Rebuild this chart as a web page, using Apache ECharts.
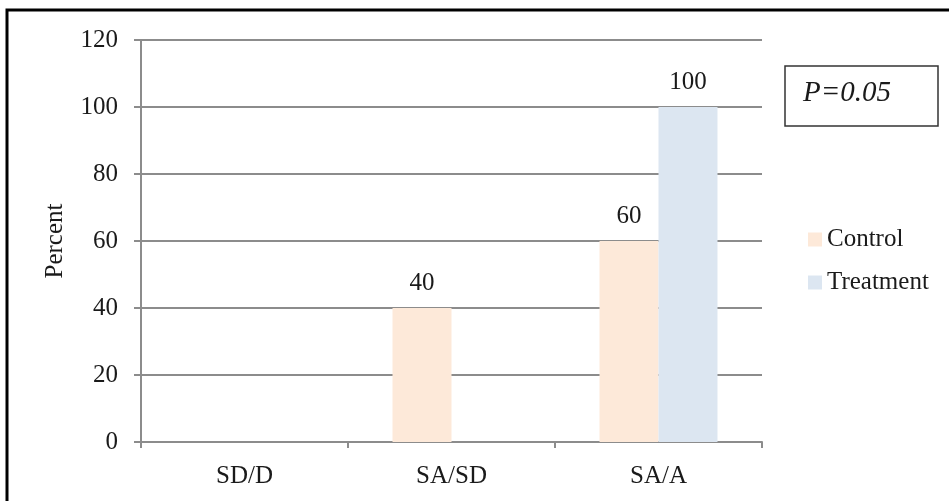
<!DOCTYPE html>
<html>
<head>
<meta charset="utf-8">
<script src="https://cdn.jsdelivr.net/npm/echarts@6/dist/echarts.min.js"></script>
<style>
  html, body { margin: 0; padding: 0; background: #fff; }
  #chart { width: 949px; height: 501px; }
</style>
</head>
<body>
<div id="chart"></div>
<script>
// Response categories and percentages per group
const categories = ['SD/D', 'SA/SD', 'SA/A'];
const controlValues = [0, 40, 60];
const treatmentValues = [0, 0, 100];
const seriesNames = ['Control', 'Treatment'];
const pValueText = 'P=0.05';

const FONT = '"Liberation Serif", "Times New Roman", serif';
const AXIS_GRAY = '#8c8c8c';

const chart = echarts.init(document.getElementById('chart'));

const labelOpt = {
  show: true,
  position: 'top',
  distance: 12,
  fontFamily: FONT,
  fontSize: 25,
  color: '#1a1a1a',
  formatter: p => (p.value ? String(p.value) : '')
};

chart.setOption({
  animation: false,
  backgroundColor: '#fff',
  grid: { left: 141, top: 40, right: 187, bottom: 59 },
  legend: {
    orient: 'vertical',
    left: 803,
    top: 222,
    itemWidth: 14,
    itemHeight: 14,
    itemGap: 18,
    icon: 'rect',
    textStyle: { fontFamily: FONT, fontSize: 25, color: '#1a1a1a' },
    data: seriesNames
  },
  xAxis: {
    type: 'category',
    data: categories,
    axisLine: { lineStyle: { color: AXIS_GRAY, width: 2 } },
    axisTick: { show: true, length: 6, lineStyle: { color: AXIS_GRAY, width: 2 } },
    axisLabel: { margin: 22, fontFamily: FONT, fontSize: 25, color: '#1a1a1a' }
  },
  yAxis: {
    type: 'value',
    min: 0,
    max: 120,
    interval: 20,
    name: 'Percent',
    nameLocation: 'middle',
    nameGap: 73,
    nameRotate: 90,
    nameTextStyle: { fontFamily: FONT, fontSize: 25, color: '#1a1a1a' },
    axisLine: { show: true, lineStyle: { color: AXIS_GRAY, width: 2 } },
    axisTick: { show: true, length: 7, lineStyle: { color: AXIS_GRAY, width: 2 } },
    axisLabel: { margin: 23, fontFamily: FONT, fontSize: 25, color: '#1a1a1a' },
    splitLine: { show: true, lineStyle: { color: AXIS_GRAY, width: 2 } }
  },
  series: [
    {
      name: seriesNames[0],
      type: 'bar',
      data: controlValues,
      barGap: '0%',
      barCategoryGap: '43%',
      itemStyle: { color: '#fde9d9' },
      label: labelOpt
    },
    {
      name: seriesNames[1],
      type: 'bar',
      data: treatmentValues,
      barGap: '0%',
      barCategoryGap: '43%',
      itemStyle: { color: '#dce6f1' },
      label: labelOpt
    }
  ],
  graphic: [
    {
      // outer frame (right and bottom edges fall outside the canvas)
      type: 'rect',
      shape: { x: 7, y: 10, width: 980, height: 540 },
      style: { fill: null, stroke: '#000', lineWidth: 3 },
      silent: true
    },
    {
      type: 'rect',
      shape: { x: 785, y: 66, width: 153, height: 60 },
      style: { fill: '#fff', stroke: '#333', lineWidth: 1.5 },
      silent: true
    },
    {
      type: 'text',
      left: 803,
      top: 79,
      style: {
        text: pValueText,
        fontFamily: FONT,
        fontStyle: 'italic',
        fontSize: 29,
        fill: '#1a1a1a'
      },
      silent: true
    }
  ]
});
</script>
</body>
</html>
